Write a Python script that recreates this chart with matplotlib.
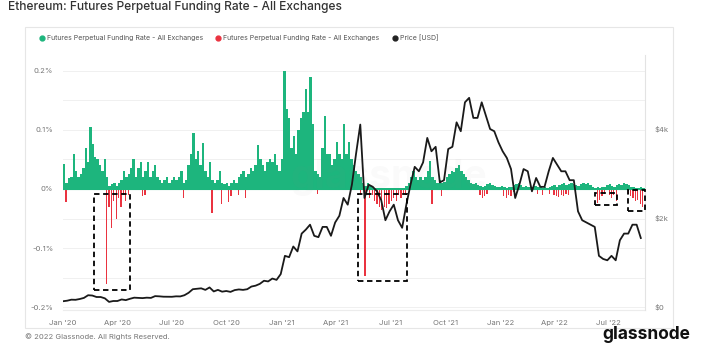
import pandas as pd
import numpy as np
import matplotlib.pyplot as plt
import matplotlib.dates as mdates
from matplotlib.patches import Rectangle

plt.rcParams['font.family'] = ['Inter', 'DejaVu Sans']

# Funding rate (%), one value per 4 days from 2020-01-01 (positive part)
rate_green = [
    0.042, 0.01, 0.018, 0.02, 0.06, 0.03, 0.02, 0.025, 0.035, 0.07,
    0.045, 0.105, 0.076, 0.055, 0.05, 0.04, 0.03, 0.05, 0.02, 0.005,
    0.008, 0.01, 0.005, 0.01, 0.015, 0.03, 0.02, 0.025, 0.035, 0.05,
    0.02, 0.035, 0.045, 0.02, 0.03, 0.045, 0.02, 0.03, 0.04, 0.02,
    0.015, 0.01, 0.015, 0.02, 0.01, 0.015, 0.02, 0.015, 0.02, 0.03,
    0.01, 0.015, 0.04, 0.06, 0.095, 0.05, 0.065, 0.04, 0.078, 0.03,
    0.02, 0.045, 0.015, 0.01, 0.015, 0.03, 0.01, 0.008, 0.01, 0.005,
    0.01, 0.015, 0.01, 0.02, 0.025, 0.03, 0.02, 0.025, 0.035, 0.03,
    0.04, 0.075, 0.05, 0.04, 0.03, 0.045, 0.05, 0.045, 0.06, 0.04,
    0.03, 0.05, 0.2, 0.135, 0.12, 0.07, 0.09, 0.06, 0.1, 0.12,
    0.13, 0.17, 0.13, 0.19, 0.11, 0.03, 0.025, 0.02, 0.07, 0.124,
    0.06, 0.06, 0.04, 0.05, 0.08, 0.06, 0.05, 0.11, 0.06, 0.08,
    0.05, 0.04, 0.03, 0.025, 0.02, 0.01, 0.005, 0.01, 0.005, 0.003,
    0.002, 0.002, 0.002, 0.002, 0.002, 0.002, 0.002, 0.002, 0.002, 0.002,
    0.002, 0.002, 0.002, 0.005, 0.01, 0.02, 0.03, 0.02, 0.015, 0.02,
    0.015, 0.02, 0.03, 0.047, 0.02, 0.015, 0.01, 0.015, 0.01, 0.012,
    0.02, 0.025, 0.03, 0.028, 0.035, 0.04, 0.03, 0.025, 0.02, 0.015,
    0.01, 0.008, 0.01, 0.006, 0.005, 0.004, 0.005, 0.008, 0.01, 0.006,
    0.005, 0.004, 0.004, 0.005, 0.003, 0.002, 0.003, 0.003, 0.006, 0.008,
    0.01, 0.006, 0.004, 0.005, 0.004, 0.003, 0.004, 0.005, 0.003, 0.003,
    0.002, 0.003, 0.002, 0.004, 0.005, 0.006, 0.004, 0.006, 0.008, 0.01,
    0.006, 0.008, 0.01, 0.008, 0.006, 0.005, 0.008, 0.01, 0.008, 0.01,
    0.006, 0.004, 0.002, 0.003, 0.002, 0.004, 0.003, 0.006, 0.008, 0.005,
    0.004, 0.006, 0.008, 0.006, 0.01, 0.008, 0.006, 0.004, 0.003, 0.002,
    0.002, 0.003, 0.002, 0.002,
]

# Negative funding episodes (%)
red_dates = [
    '2020-01-05', '2020-03-13', '2020-03-17', '2020-03-21', '2020-03-25',
    '2020-03-29', '2020-04-02', '2020-04-06', '2020-04-10', '2020-04-14',
    '2020-04-18', '2020-05-12', '2020-05-16', '2020-07-19', '2020-09-05',
    '2020-09-21', '2020-10-03', '2020-10-07', '2020-10-19', '2020-10-31',
    '2021-02-28', '2021-05-11', '2021-05-19', '2021-05-27', '2021-05-31',
    '2021-06-04', '2021-06-08', '2021-06-12', '2021-06-16', '2021-06-20',
    '2021-06-24', '2021-06-28', '2021-07-02', '2021-07-06', '2021-07-10',
    '2021-07-14', '2021-07-18', '2021-07-22', '2021-07-26', '2021-09-08',
    '2021-09-24', '2021-11-27', '2021-12-01', '2021-12-05', '2021-12-09',
    '2022-01-06', '2022-01-10', '2022-01-14', '2022-01-18', '2022-01-22',
    '2022-03-03', '2022-03-11', '2022-03-23', '2022-03-31', '2022-04-04',
    '2022-04-08', '2022-04-12', '2022-04-16', '2022-04-20', '2022-04-24',
    '2022-06-11', '2022-06-15', '2022-06-19', '2022-06-23', '2022-07-01',
    '2022-07-05', '2022-07-09', '2022-07-13', '2022-08-02', '2022-08-06',
    '2022-08-10', '2022-08-14', '2022-08-18', '2022-08-22', '2022-08-26',
]
rate_red = [
    -0.022, -0.161, -0.03, -0.066, -0.02,
    -0.05, -0.015, -0.03, -0.01, -0.02,
    -0.01, -0.012, -0.01, -0.015, -0.04,
    -0.025, -0.022, -0.012, -0.01, -0.015,
    -0.008, -0.01, -0.147, -0.015, -0.01,
    -0.02, -0.025, -0.03, -0.035, -0.03,
    -0.032, -0.025, -0.02, -0.015, -0.02,
    -0.01, -0.015, -0.008, -0.01, -0.025,
    -0.012, -0.01, -0.015, -0.012, -0.008,
    -0.012, -0.015, -0.01, -0.012, -0.005,
    -0.008, -0.01, -0.008, -0.01, -0.012,
    -0.013, -0.01, -0.012, -0.008, -0.01,
    -0.024, -0.018, -0.012, -0.008, -0.01,
    -0.015, -0.01, -0.02, -0.008, -0.012,
    -0.015, -0.02, -0.018, -0.025, -0.03,
]

# ETH price (USD), weekly from 2020-01-01
price = [
    130, 142, 165, 162, 180, 205, 265, 258, 225, 225,
    195, 115, 135, 135, 170, 155, 185, 210, 205, 200,
    210, 205, 245, 240, 232, 230, 230, 240, 238, 265,
    320, 400, 410, 420, 385, 440, 350, 385, 345, 360,
    340, 380, 395, 385, 400, 460, 480, 520, 590, 575,
    640, 610, 740, 1150, 1120, 1360, 1250, 1650, 1740, 1850,
    1600, 1570, 1800, 1800, 1600, 1900, 2050, 2450, 2300, 2750,
    3450, 4100, 2450, 2750, 2700, 2600, 2400, 1950, 2150, 2300,
    1950, 1780, 2300, 2750, 3150, 3050, 3250, 3800, 3500, 3600,
    2800, 2850, 3550, 3600, 4150, 3950, 4600, 4700, 4250, 4250,
    4600, 4300, 4000, 3950, 3700, 3500, 3350, 3100, 2450, 2750,
    3100, 3050, 2600, 2900, 2700, 2700, 3050, 3350, 3200, 3050,
    3050, 2850, 2850, 2150, 1950, 1900, 1850, 1800, 1150, 1080,
    1050, 1150, 1050, 1500, 1650, 1650, 1850, 1850, 1550,
]

green_dates = pd.date_range('2020-01-01', periods=len(rate_green), freq='4D')
red_dt = pd.to_datetime(red_dates)
price_dates = pd.date_range('2020-01-01', periods=len(price), freq='7D')

fig = plt.figure(figsize=(7.2, 3.44), dpi=100)
fig.patch.set_facecolor('white')

# panel frame
fig.patches.append(Rectangle((25 / 720, 1 - 328 / 344), 648 / 720, 301 / 344,
                             transform=fig.transFigure, fill=False,
                             edgecolor='#e6e6e6', linewidth=0.8))

ax = fig.add_axes([63 / 720, 1 - 310 / 344, 582 / 720, 255 / 344])
ax2 = ax.twinx()
ax2.patch.set_visible(False)

green = '#1db57d'
red = '#ea3340'
ax.bar(green_dates, rate_green, width=4, color=green, linewidth=0, align='edge')
ax.bar(red_dt, rate_red, width=2, color=red, linewidth=0, align='edge')
ax.axhline(0, color=green, linewidth=0.8)

ax2.plot(price_dates, price, color='#1a1a1a', linewidth=1.3)

ax.set_ylim(-0.205, 0.227)
ax2.set_ylim(-67, 5663)
ax.set_xlim(pd.Timestamp('2020-01-01'), pd.Timestamp('2022-08-31'))

ax.set_yticks([-0.2, -0.15, -0.1, -0.05, 0, 0.05, 0.1, 0.15, 0.2])
ax.set_yticklabels(['-0.2%', '', '-0.1%', '', '0%', '', '0.1%', '', '0.2%'])
ax2.set_yticks([0, 2000, 4000])
ax2.set_yticklabels(['$0', '$2k', '$4k'])
ax.grid(axis='y', color='#f0f0f0', linewidth=0.7)
ax.set_axisbelow(True)

ax.xaxis.set_major_locator(mdates.MonthLocator(bymonth=[1, 4, 7, 10]))
ax.xaxis.set_major_formatter(mdates.DateFormatter("%b '%y"))

for a in (ax, ax2):
    a.tick_params(length=0, labelsize=5.5, labelcolor='#777777', pad=7)
    for s in a.spines.values():
        s.set_visible(False)
ax2.spines['right'].set_visible(True)
ax2.spines['right'].set_color('#e3e3e3')
ax.spines['bottom'].set_visible(True)
ax.spines['bottom'].set_color('#ececec')

# highlighted negative funding periods, drawn above the price line
boxes = [
    ('2020-02-22', '2020-04-22', -0.0085, -0.171),
    ('2021-05-08', '2021-07-29', -0.0085, -0.156),
    ('2022-06-09', '2022-07-15', -0.007, -0.027),
    ('2022-08-03', '2022-08-31', -0.002, -0.037),
]
for x0, x1, y0, y1 in boxes:
    d0 = mdates.date2num(pd.Timestamp(x0))
    d1 = mdates.date2num(pd.Timestamp(x1))
    ax2.add_patch(Rectangle((d0, y1), d1 - d0, y0 - y1, fill=False,
                            transform=ax.transData,
                            edgecolor='black', linestyle=(0, (3, 2)),
                            linewidth=1.3, zorder=5, clip_on=False))

# watermark
ax.text(0.56, 0.52, 'glassnode', transform=ax.transAxes, fontsize=28,
        color='#888888', alpha=0.04, ha='center', va='center', weight='bold')

fig.text(8 / 720, 1 - 7 / 344, 'Ethereum: Futures Perpetual Funding Rate - All Exchanges',
         fontsize=8.6, color='#333333', va='center', weight='medium')

# legend row
legend_items = [
    (42, green, 'Futures Perpetual Funding Rate - All Exchanges'),
    (218, red, 'Futures Perpetual Funding Rate - All Exchanges'),
    (395, '#222222', 'Price [USD]'),
]
for lx, c, lab in legend_items:
    fig.lines.append(plt.Line2D([lx / 720], [1 - 38 / 344], marker='o', markersize=3.5,
                                color=c, transform=fig.transFigure))
    fig.text((lx + 5) / 720, 1 - 38 / 344, lab, fontsize=5, color='#555555', va='center')

fig.text(25 / 720, 1 - 337 / 344, '\u00a9 2022 Glassnode. All Rights Reserved.',
         fontsize=5.5, color='#777777', va='center')
fig.text(602 / 720, 1 / 344, 'glassnode', fontsize=12.5, color='#111111',
         va='bottom', weight='bold')

fig.savefig('out.png', dpi=100)
